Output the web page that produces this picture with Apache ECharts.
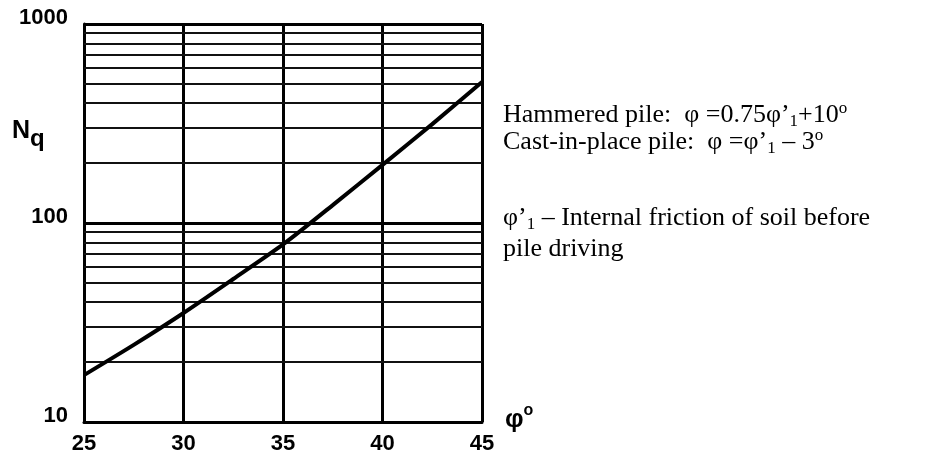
<!DOCTYPE html>
<html>
<head>
<meta charset="utf-8">
<script src="https://cdn.jsdelivr.net/npm/echarts@6/dist/echarts.min.js"></script>
<style>
  html, body { margin: 0; padding: 0; background: #fff; }
  #chart { width: 935px; height: 461px; }
</style>
</head>
<body>
<div id="chart"></div>
<script>
// ---- data ----
const phiValues = [25, 27.5, 30, 32.5, 35, 37.5, 40, 42.5, 45];
const nqValues = [17.2, 24.4, 35.3, 52.3, 78, 123, 196, 314, 511];
const xTicks = [25, 30, 35, 40, 45];
const yTicks = [10, 100, 1000];
const minorGridValues = [20, 30, 40, 50, 60, 70, 80, 90, 200, 300, 400, 500, 600, 700, 800, 900];
const noteLines = [
  'Hammered pile:  φ =0.75φ’{s|1}+10{p|o}',
  'Cast-in-place pile:  φ =φ’{s|1} – 3{p|o}',
  'φ’{s|1} – Internal friction of soil before',
  'pile driving'
];

const chart = echarts.init(document.getElementById('chart'), null, { renderer: 'canvas' });

const sans = 'Liberation Sans, Arial, sans-serif';
const serif = 'Liberation Serif, Times New Roman, serif';

const noteTops = [100, 127, 203, 234];
const noteRich = {
  s: { fontSize: 17, lineHeight: 12, verticalAlign: 'bottom', fontFamily: serif, fill: '#000', color: '#000' },
  p: { fontSize: 17, lineHeight: 14, verticalAlign: 'top', fontFamily: serif, fill: '#000', color: '#000' }
};

const graphics = noteLines.map((t, i) => ({
  type: 'text',
  x: 503,
  y: noteTops[i],
  style: {
    text: t,
    fontSize: 26,
    lineHeight: 30,
    fontFamily: serif,
    fill: '#000',
    verticalAlign: 'top',
    rich: noteRich
  }
}));

graphics.push({
  type: 'text',
  x: 12,
  y: 134,
  style: {
    text: '{n|N}{q|q}',
    fill: '#000',
    verticalAlign: 'middle',
    rich: {
      n: { fontSize: 25, fontWeight: 'bold', fontFamily: sans, lineHeight: 30, verticalAlign: 'top', fill: '#000' },
      q: { fontSize: 24, fontWeight: 'bold', fontFamily: sans, lineHeight: 30, verticalAlign: 'top', padding: [8, 0, 0, 0], fill: '#000' }
    }
  }
});

graphics.push({
  type: 'text',
  x: 505,
  y: 403,
  style: {
    text: '{a|φ}{b|o}',
    fill: '#000',
    verticalAlign: 'top',
    rich: {
      a: { fontSize: 26, fontWeight: 'bold', fontFamily: sans, lineHeight: 30, verticalAlign: 'bottom', fill: '#000' },
      b: { fontSize: 16, fontWeight: 'bold', fontFamily: sans, lineHeight: 14, verticalAlign: 'top', fill: '#000' }
    }
  }
});

const option = {
  backgroundColor: '#fff',
  animation: false,
  grid: { left: 84, right: 453, top: 24, bottom: 39, containLabel: false },
  xAxis: {
    type: 'value',
    min: xTicks[0],
    max: xTicks[xTicks.length - 1],
    interval: 5,
    axisLine: { show: true, lineStyle: { color: '#000', width: 3 } },
    axisTick: { show: false },
    axisLabel: {
      color: '#000', fontSize: 22, fontWeight: 'bold', fontFamily: sans, margin: 11,
      showMinLabel: true, showMaxLabel: true
    },
    splitLine: { show: true, lineStyle: { color: '#000', width: 3 } }
  },
  yAxis: {
    type: 'log',
    logBase: 10,
    min: yTicks[0],
    max: yTicks[yTicks.length - 1],
    axisLine: { show: true, lineStyle: { color: '#000', width: 3 } },
    axisTick: { show: false },
    axisLabel: {
      color: '#000', fontSize: 22, fontWeight: 'bold', fontFamily: sans, margin: 16,
      verticalAlign: 'bottom', lineHeight: 13,
      formatter: v => String(Math.round(v))
    },
    splitLine: { show: true, lineStyle: { color: '#000', width: 3 } }
  },
  series: [{
    type: 'line',
    data: phiValues.map((x, i) => [x, nqValues[i]]),
    smooth: 0.25,
    showSymbol: false,
    lineStyle: { color: '#000', width: 4 },
    z: 5,
    markLine: {
      silent: true,
      symbol: 'none',
      label: { show: false },
      lineStyle: { color: '#111', width: 2, type: 'solid' },
      data: minorGridValues.map(v => ({ yAxis: v }))
    }
  }],
  graphic: graphics
};

chart.setOption(option);
</script>
</body>
</html>
